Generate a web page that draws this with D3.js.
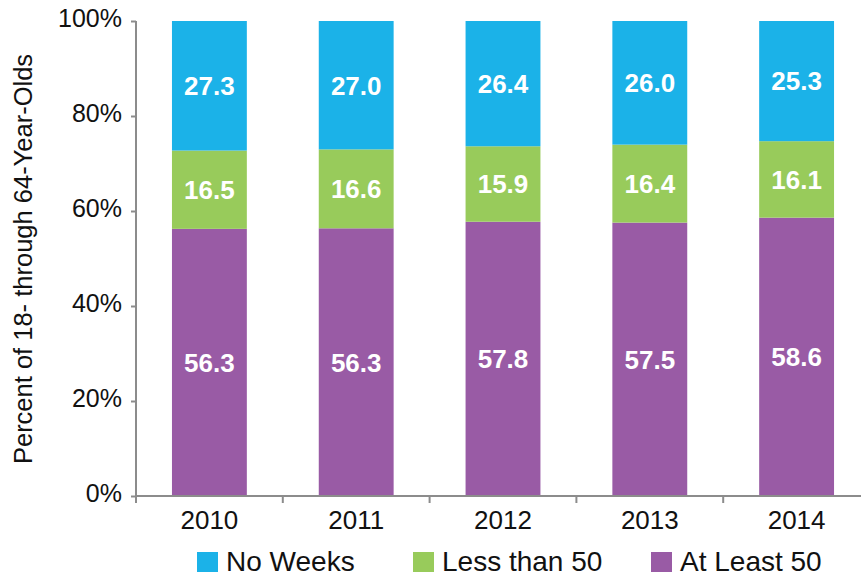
<!DOCTYPE html>
<html>
<head>
<meta charset="utf-8">
<script src="https://cdn.jsdelivr.net/npm/d3@7"></script>
<style>
  body { margin: 0; background: #fff; }
  .vis { width: 861px; height: 577px; }
  text { font-family: "Liberation Sans", Arial, Helvetica, sans-serif; }
</style>
</head>
<body>
<div class="vis"></div>
<script>
(function() {
  'use strict';

  var years = ['2010', '2011', '2012', '2013', '2014'];
  var atLeast50 = [56.3, 56.3, 57.8, 57.5, 58.6];
  var lessThan50 = [16.5, 16.6, 15.9, 16.4, 16.1];
  var noWeeks = [27.3, 27.0, 26.4, 26.0, 25.3];
  var seriesNames = ['No Weeks', 'Less than 50', 'At Least 50'];
  var yTicks = [0, 0.2, 0.4, 0.6, 0.8, 1];

  var colors = {
    'No Weeks': '#1bb2e8',
    'Less than 50': '#98cb5b',
    'At Least 50': '#995ba5'
  };

  var elWidth = 861, elHeight = 577,
    margin = {top: 21, right: -9, bottom: 81, left: 136},
    width = elWidth - margin.left - margin.right,
    height = elHeight - margin.top - margin.bottom;

  var svg = d3.select('.vis').append('svg')
      .attr('width', elWidth)
      .attr('height', elHeight)
    .append('g')
      .attr('transform', 'translate(' + margin.left + ',' + margin.top + ')');

  var table = years.map(function(y, i) {
    return {year: y, 'At Least 50': atLeast50[i], 'Less than 50': lessThan50[i], 'No Weeks': noWeeks[i]};
  });

  // shares are drawn as parts of a full 100% bar
  var stack = d3.stack()
    .keys(['At Least 50', 'Less than 50', 'No Weeks'])
    .offset(d3.stackOffsetExpand);
  var layers = stack(table);

  var x = d3.scaleBand().domain(years).range([0, width]).paddingInner(0.49).paddingOuter(0.245);
  var xOuter = d3.scaleBand().domain(years).range([0, width]);
  var y = d3.scaleLinear().domain([0, 1]).range([height, 0]);

  // y axis
  var yAxis = svg.append('g')
    .call(d3.axisLeft(y).tickValues(yTicks).tickSize(5).tickPadding(9).tickFormat(d3.format('.0%')));
  yAxis.select('.domain').attr('stroke', '#8c8c8c').attr('stroke-width', 2).attr('d', 'M0,0V' + height);
  yAxis.selectAll('.tick line').attr('stroke', '#8c8c8c').attr('stroke-width', 2);
  yAxis.selectAll('.tick text')
    .attr('fill', '#111')
    .attr('dy', '0.2em')
    .style('font-size', '25px');

  // bars
  var layer = svg.selectAll('.layer')
    .data(layers)
    .enter().append('g')
      .attr('class', 'layer')
      .attr('fill', function(d) { return colors[d.key]; });

  layer.selectAll('rect')
    .data(function(d) { return d; })
    .enter().append('rect')
      .attr('x', function(d) { return x(d.data.year); })
      .attr('y', function(d) { return y(d[1]); })
      .attr('width', x.bandwidth())
      .attr('height', function(d) { return y(d[0]) - y(d[1]); });

  layer.selectAll('text')
    .data(function(d) { return d.map(function(p) { p.key = d.key; return p; }); })
    .enter().append('text')
      .attr('x', function(d) { return x(d.data.year) + x.bandwidth() / 2; })
      .attr('y', function(d) { return (y(d[0]) + y(d[1])) / 2; })
      .attr('dy', '0.36em')
      .attr('text-anchor', 'middle')
      .attr('fill', '#fff')
      .style('font-size', '26px')
      .style('font-weight', 'bold')
      .text(function(d) { return d.data[d.key].toFixed(1); });

  // x axis
  var xAxis = svg.append('g')
    .attr('transform', 'translate(0,' + height + ')');
  xAxis.append('line')
    .attr('x1', 0).attr('x2', width)
    .attr('stroke', '#8c8c8c').attr('stroke-width', 2);
  xAxis.selectAll('.sep')
    .data(years)
    .enter().append('line')
      .attr('class', 'sep')
      .attr('x1', function(d) { return xOuter(d); })
      .attr('x2', function(d) { return xOuter(d); })
      .attr('y1', 0).attr('y2', 7)
      .attr('stroke', '#8c8c8c').attr('stroke-width', 2);
  xAxis.selectAll('.lbl')
    .data(years)
    .enter().append('text')
      .attr('class', 'lbl')
      .attr('x', function(d) { return xOuter(d) + xOuter.bandwidth() / 2; })
      .attr('y', 33)
      .attr('text-anchor', 'middle')
      .attr('fill', '#111')
      .style('font-size', '26px')
      .text(function(d) { return d; });

  // y title
  svg.append('text')
    .attr('transform', 'translate(' + (32 - margin.left) + ',' + (259 - margin.top) + ') rotate(-90)')
    .attr('text-anchor', 'middle')
    .attr('fill', '#111')
    .style('font-size', '25.5px')
    .text('Percent of 18- through 64-Year-Olds');

  // legend
  var legendX = [197, 413, 651];
  var legend = svg.selectAll('.legend')
    .data(seriesNames)
    .enter().append('g')
      .attr('class', 'legend')
      .attr('transform', function(d, i) { return 'translate(' + (legendX[i] - margin.left) + ',' + (552 - margin.top) + ')'; });
  legend.append('rect')
    .attr('width', 21).attr('height', 20)
    .attr('fill', function(d) { return colors[d]; });
  legend.append('text')
    .attr('x', 29).attr('y', 19)
    .attr('fill', '#111')
    .style('font-size', '28px')
    .text(function(d) { return d; });
}());
</script>
</body>
</html>
